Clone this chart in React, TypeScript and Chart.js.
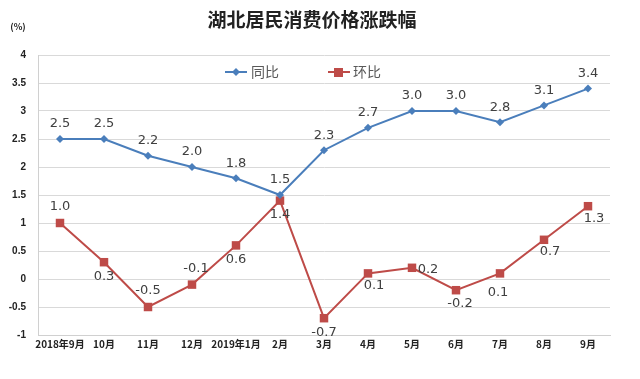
import React, { useEffect, useRef } from "react";
import { Chart, registerables } from "chart.js";

Chart.register(...registerables);

const categories = ["2018年9月", "10月", "11月", "12月", "2019年1月", "2月", "3月", "4月", "5月", "6月", "7月", "8月", "9月"];
const yoy = [2.5, 2.5, 2.2, 2.0, 1.8, 1.5, 2.3, 2.7, 3.0, 3.0, 2.8, 3.1, 3.4];
const mom = [1.0, 0.3, -0.5, -0.1, 0.6, 1.4, -0.7, 0.1, 0.2, -0.2, 0.1, 0.7, 1.3];
const momLabelSide = ["above", "below", "above", "above", "below", "below", "below", "belowRight", "right", "below", "below", "belowRight", "belowRight"];
const yTicks = ["-1", "-0.5", "0", "0.5", "1", "1.5", "2", "2.5", "3", "3.5", "4"];
const seriesNames = ["同比", "环比"];
const titleText = "湖北居民消费价格涨跌幅";
const unitText = "(%)";

const BLUE = "#4a7ebb";
const RED = "#be4b48";

export default function App() {
  const ref = useRef<HTMLCanvasElement | null>(null);
  useEffect(() => {
    if (!ref.current) return;
    const overlay = {
      id: "overlay",
      afterDraw(chart: any) {
        const ctx = chart.ctx;
        ctx.save();
        // title
        ctx.fillStyle = "#222";
        ctx.font = "bold 19px 'Noto Sans CJK SC'";
        ctx.textAlign = "center";
        ctx.textBaseline = "middle";
        ctx.fillText(titleText, 312, 20);
        ctx.font = "bold 9px 'Noto Sans CJK SC'";
        ctx.fillText(unitText, 18, 27);
        // legend
        const ly = 72;
        ctx.lineWidth = 2;
        ctx.strokeStyle = BLUE;
        ctx.beginPath(); ctx.moveTo(225, ly); ctx.lineTo(247, ly); ctx.stroke();
        ctx.fillStyle = BLUE;
        ctx.beginPath(); ctx.moveTo(236, ly - 4); ctx.lineTo(240, ly); ctx.lineTo(236, ly + 4); ctx.lineTo(232, ly); ctx.closePath(); ctx.fill();
        ctx.strokeStyle = RED;
        ctx.beginPath(); ctx.moveTo(328, ly); ctx.lineTo(350, ly); ctx.stroke();
        ctx.fillStyle = RED;
        ctx.fillRect(334, ly - 4, 9, 9);
        ctx.fillStyle = "#595959";
        ctx.font = "14px 'Noto Sans CJK SC'";
        ctx.textAlign = "left";
        ctx.fillText(seriesNames[0], 251, ly);
        ctx.fillText(seriesNames[1], 353, ly);
        // data labels
        ctx.fillStyle = "#404040";
        ctx.font = "13px 'DejaVu Sans'";
        ctx.textAlign = "center";
        const m0 = chart.getDatasetMeta(0).data;
        m0.forEach((p: any, i: number) => {
          ctx.fillText(yoy[i].toFixed(1), p.x, p.y - 15);
        });
        const m1 = chart.getDatasetMeta(1).data;
        m1.forEach((p: any, i: number) => {
          const side = momLabelSide[i];
          let dx = 0, dy = 0;
          if (side === "above") { dy = -16; }
          else if (side === "below") { dy = 14; }
          else if (side === "right") { dx = 16; dy = 2; }
          else if (side === "belowRight") { dx = 6; dy = 12; }
          if (i === 3) dx = 4;
          if (i === 9) { dx = 4; dy = 13; }
          if (i === 10) { dx = -2; dy = 19; }
          ctx.fillText(mom[i].toFixed(1), p.x + dx, p.y + dy);
        });
        ctx.restore();
      },
    };
    const chart = new Chart(ref.current, {
      type: "line",
      data: {
        labels: categories,
        datasets: [
          {
            label: seriesNames[0],
            data: yoy,
            borderColor: BLUE,
            backgroundColor: BLUE,
            borderWidth: 2,
            pointStyle: "rectRot",
            pointRadius: 4,
            pointBorderWidth: 0,
            tension: 0,
          },
          {
            label: seriesNames[1],
            data: mom,
            borderColor: RED,
            backgroundColor: RED,
            borderWidth: 2,
            pointStyle: "rect",
            pointRadius: 6,
            pointBorderWidth: 0,
            tension: 0,
          },
        ],
      },
      options: {
        animation: false,
        responsive: false,
        layout: { padding: { top: 55, right: 30, left: 0, bottom: 0 } },
        plugins: { legend: { display: false }, tooltip: { enabled: false }, title: { display: false } },
        scales: {
          x: {
            offset: true,
            grid: { display: false, drawTicks: false },
            border: { display: true, color: "#d0d0d0", width: 1 },
            ticks: {
              color: "#222",
              font: { family: "'Noto Sans CJK SC'", size: 10, weight: "bold" },
              maxRotation: 0,
              autoSkip: false,
              padding: 3,
            },
            afterFit(scale: any) { scale.height = 44; },
          },
          y: {
            min: -1,
            max: 4,
            grid: { color: "#d9d9d9", lineWidth: 1, drawTicks: false },
            border: { display: true, color: "#d0d0d0", width: 1 },
            ticks: {
              stepSize: 0.5,
              color: "#222",
              font: { family: "'Liberation Sans'", size: 10, weight: "bold" },
              padding: 12,
              callback: (v: any) => {
                const s = String(Math.round(Number(v) * 10) / 10);
                return yTicks.includes(s) ? s : "";
              },
            },
            afterFit(scale: any) { scale.width = 38; },
          },
        },
      },
      plugins: [overlay],
    } as any);
    return () => chart.destroy();
  }, []);
  return (
    <div style={{ position: "fixed", left: 0, top: 0, width: 640, height: 379, background: "#fff" }}>
      <canvas ref={ref} width={640} height={379} style={{ width: 640, height: 379 }} />
    </div>
  );
}
